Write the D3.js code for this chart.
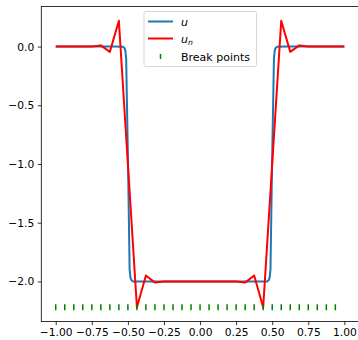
<!DOCTYPE html>
<html>
<head>
<meta charset="utf-8">
<script src="https://cdn.jsdelivr.net/npm/d3@7"></script>
<style>
  body { margin: 0; background: #fff; }
  text { font-family: "DejaVu Sans", sans-serif; font-size: 10.7px; fill: #000; }
</style>
</head>
<body>
<svg id="chart" width="358" height="340"></svg>
<script>
/* ******************** data ************************* */
// exact solution u (sampled)
var uX = [-1.0, -0.6, -0.535, -0.525, -0.518, -0.512, -0.499, -0.488, -0.482, -0.475, -0.465,
          0.465, 0.475, 0.482, 0.488, 0.499, 0.512, 0.518, 0.525, 0.535, 0.6, 1.0];
var uY = [0, 0, -0.002, -0.01, -0.03, -0.1, -1.0, -1.9, -1.97, -1.99, -2.0,
          -2.0, -1.99, -1.97, -1.9, -1.0, -0.1, -0.03, -0.01, -0.002, 0, 0];

// interpolant u_n at the nodes
var unX = [-1.0, -0.9375, -0.875, -0.8125, -0.75, -0.6875, -0.625, -0.5625, -0.5, -0.4375, -0.375, -0.3125, -0.25,
           -0.1875, -0.125, -0.0625, 0.0, 0.0625, 0.125, 0.1875, 0.25, 0.3125, 0.375, 0.4375, 0.5, 0.5625,
           0.625, 0.6875, 0.75, 0.8125, 0.875, 0.9375, 1.0];
var unY = [0, 0, 0, 0, 0, 0.01, -0.045, 0.22, -1.0, -2.22, -1.95, -2.01, -2.0,
           -2.0, -2.0, -2.0, -2.0, -2.0, -2.0, -2.0, -2.0, -2.01, -1.95, -2.22, -1.0, 0.22,
           -0.045, 0.01, 0, 0, 0, 0, 0];

// break points (drawn at the bottom)
var breakX = [-1.0, -0.9375, -0.875, -0.8125, -0.75, -0.6875, -0.625, -0.5625, -0.5, -0.4375, -0.375, -0.3125, -0.25,
              -0.1875, -0.125, -0.0625, 0.0, 0.0625, 0.125, 0.1875, 0.25, 0.3125, 0.375, 0.4375, 0.5, 0.5625,
              0.625, 0.6875, 0.75, 0.8125, 0.875, 0.9375];
var breakY = -2.22;

var xTicks = [-1.0, -0.75, -0.5, -0.25, 0.0, 0.25, 0.5, 0.75, 1.0];
var yTicks = [0.0, -0.5, -1.0, -1.5, -2.0];

/* ******************** scales ************************* */
var svg = d3.select("#chart");
var x = d3.scaleLinear().domain([-1.1, 1.1]).range([41.3, 358.8]);
var y = d3.scaleLinear().domain([-2.342, 0.342]).range([321.6, 6.4]);

var minus = function(v, f) { return d3.format(f)(v).replace("-", "\u2212"); };

// axes
svg.append("g")
  .attr("transform", "translate(0," + y.range()[0] + ")")
  .call(d3.axisBottom(x).tickValues(xTicks).tickSize(3.5).tickPadding(3.5)
    .tickFormat(function(d) { return minus(d, ".2f"); }));
svg.append("g")
  .attr("transform", "translate(" + x.range()[0] + ",0)")
  .call(d3.axisLeft(y).tickValues(yTicks).tickSize(3.5).tickPadding(3.5)
    .tickFormat(function(d) { return minus(d, ".1f"); }));
svg.selectAll(".domain").remove();
svg.selectAll(".tick line").attr("stroke", "#000").attr("stroke-width", 0.8);
svg.selectAll(".tick text").style("font-family", "DejaVu Sans").style("font-size", "10.7px").attr("fill", "#000");

// frame (right edge falls just outside the picture)
svg.append("rect")
  .attr("x", x.range()[0]).attr("y", y.range()[1])
  .attr("width", x.range()[1] - x.range()[0])
  .attr("height", y.range()[0] - y.range()[1])
  .attr("fill", "none").attr("stroke", "#000").attr("stroke-width", 0.8);

/* ******************** lines ************************* */
var line = d3.line()
  .x(function(d) { return x(d[0]); })
  .y(function(d) { return y(d[1]); });

svg.append("path")
  .datum(d3.zip(uX, uY))
  .attr("fill", "none").attr("stroke", "#1f77b4").attr("stroke-width", 2)
  .attr("stroke-linejoin", "round")
  .attr("d", line);

svg.append("path")
  .datum(d3.zip(unX, unY))
  .attr("fill", "none").attr("stroke", "#ff0000").attr("stroke-width", 2)
  .attr("stroke-linejoin", "round")
  .attr("d", line);

// break point markers
svg.append("g").selectAll("line")
  .data(breakX)
  .enter().append("line")
  .attr("x1", function(d) { return x(d); })
  .attr("x2", function(d) { return x(d); })
  .attr("y1", y(breakY) - 3)
  .attr("y2", y(breakY) + 3)
  .attr("stroke", "#008000").attr("stroke-width", 1.5);

/* ******************** legend ************************* */
var legend = svg.append("g").attr("transform", "translate(144,11.5)");
legend.append("rect")
  .attr("width", 112.5).attr("height", 55).attr("rx", 2)
  .attr("fill", "#fff").attr("fill-opacity", 0.8)
  .attr("stroke", "#ccc").attr("stroke-width", 0.8);

legend.append("line").attr("x1", 4).attr("x2", 29).attr("y1", 10).attr("y2", 10)
  .attr("stroke", "#1f77b4").attr("stroke-width", 2);
legend.append("line").attr("x1", 4).attr("x2", 29).attr("y1", 27).attr("y2", 27)
  .attr("stroke", "#ff0000").attr("stroke-width", 2);
legend.append("line").attr("x1", 16.5).attr("x2", 16.5).attr("y1", 42.5).attr("y2", 47.5)
  .attr("stroke", "#008000").attr("stroke-width", 1.5);

legend.append("text").attr("x", 37).attr("y", 14).style("font-size", "11px").style("font-style", "italic").text("u");
var un = legend.append("text").attr("x", 37).attr("y", 31).style("font-size", "11px").style("font-style", "italic");
un.append("tspan").text("u");
un.append("tspan").attr("dy", 2.5).style("font-size", "7.7px").text("n");
legend.append("text").attr("x", 37).attr("y", 49.5).style("font-size", "11px").text("Break points");
</script>
</body>
</html>
